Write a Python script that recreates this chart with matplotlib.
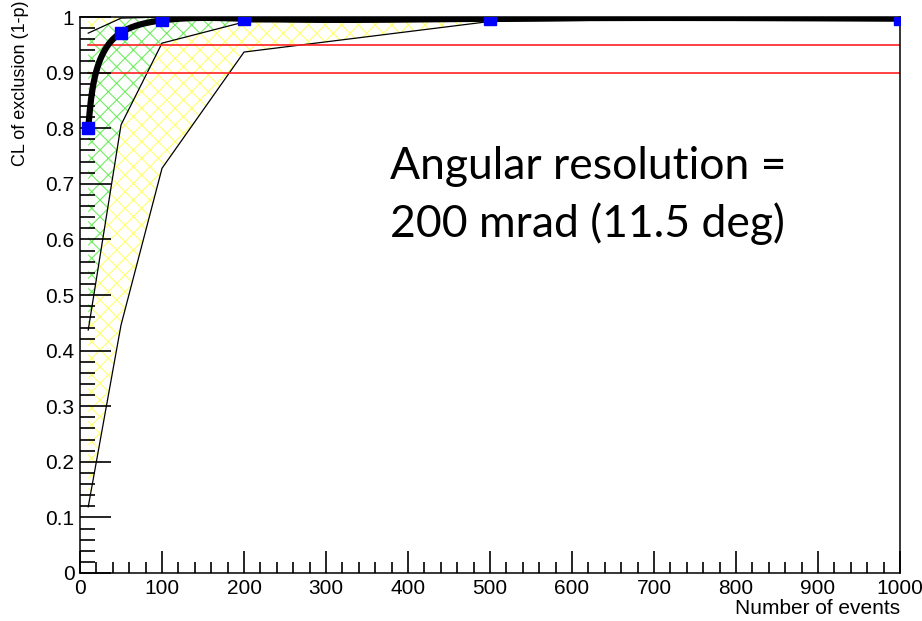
import numpy as np
import matplotlib
matplotlib.use("Agg")
import matplotlib.pyplot as plt

# exclusion CL vs. number of events, with 1 and 2 sigma bands
n_events = [10, 50, 100, 200, 500, 1000]
cl_median = [0.800, 0.972, 0.994, 0.997, 0.997, 0.997]

sig1_lo = [0.437, 0.806, 0.953, 0.991, 0.998, 1.0]
sig1_hi = [0.971, 0.998, 1.0, 1.0, 1.0, 1.0]
sig2_lo = [0.119, 0.446, 0.728, 0.937, 0.992, 1.0]
sig2_hi = [1.0, 1.0, 1.0, 1.0, 1.0, 1.0]

cl_levels = [0.95, 0.90]


def natural_spline(t, y, ts):
    # natural cubic spline y(t) evaluated at ts
    n = len(t)
    h = np.diff(t)
    A = np.zeros((n, n))
    r = np.zeros(n)
    A[0, 0] = A[-1, -1] = 1.0
    for i in range(1, n - 1):
        A[i, i - 1] = h[i - 1]
        A[i, i] = 2 * (h[i - 1] + h[i])
        A[i, i + 1] = h[i]
        r[i] = 6 * ((y[i + 1] - y[i]) / h[i] - (y[i] - y[i - 1]) / h[i - 1])
    M = np.linalg.solve(A, r)
    k = np.clip(np.searchsorted(t, ts) - 1, 0, n - 2)
    a = t[k + 1] - ts
    b = ts - t[k]
    hk = h[k]
    return (M[k] * a**3 + M[k + 1] * b**3) / (6 * hk) \
        + (y[k] / hk - M[k] * hk / 6) * a + (y[k + 1] / hk - M[k + 1] * hk / 6) * b


def smooth(x, y, sx, sy, num=800):
    # parametric spline (chord length in screen units) like ROOT's "C" option
    x = np.asarray(x, float)
    y = np.asarray(y, float)
    px, py = x * sx, y * sy
    t = np.concatenate([[0], np.cumsum(np.hypot(np.diff(px), np.diff(py)))])
    ts = np.linspace(0, t[-1], num)
    return natural_spline(t, px, ts) / sx, natural_spline(t, py, ts) / sy


plt.rcParams["font.family"] = ["Liberation Sans", "DejaVu Sans"]
plt.rcParams["hatch.linewidth"] = 0.8

fig = plt.figure(figsize=(9.22, 6.21), dpi=100)
ax = fig.add_axes([0.0868, 0.0773, 0.8894, 0.8953])

# 2 sigma band (yellow) and 1 sigma band (green), hatched
ax.fill_between(n_events, sig2_lo, sig2_hi, facecolor="white",
                edgecolor="#ffff70", hatch="xx", linewidth=0, zorder=1)
ax.fill_between(n_events, sig1_lo, sig1_hi, facecolor="white",
                edgecolor="#70ee60", hatch="xx", linewidth=0, zorder=2)
for band in (sig2_lo, sig1_lo, sig1_hi):
    ax.plot(n_events, band, color="black", lw=0.9, zorder=3)

for lvl in cl_levels:
    ax.plot([n_events[0], 1000], [lvl, lvl], color="#ff2020", lw=1.2, zorder=4)

# screen scale: 820 px per 1000 events, 556 px per unit CL
xs, ys = smooth(n_events, cl_median, 0.82, 556.0)
ax.plot(xs, ys, color="black", lw=4.5, solid_capstyle="butt", zorder=5)
ax.plot(n_events, cl_median, ls="none", marker="s", ms=9,
        color="#0000ff", zorder=6)

ax.text(378, 0.604, "Angular resolution =\n200 mrad (11.5 deg)",
        fontfamily="Lato", fontsize=32, linespacing=1.45,
        va="baseline", ha="left", zorder=7)

ax.set_xlim(0, 1000)
ax.set_ylim(0, 1.0)
ax.set_xticks(np.arange(0, 1001, 100))
ax.set_xticks(np.arange(0, 1001, 20), minor=True)
ax.set_yticks(np.arange(0, 1.01, 0.1))
ax.set_yticks(np.arange(0, 1.001, 0.02), minor=True)
ax.set_xticklabels(["0"] + [str(v) for v in range(100, 1001, 100)])
ax.set_yticklabels(["0", "0.1", "0.2", "0.3", "0.4", "0.5",
                    "0.6", "0.7", "0.8", "0.9", "1"])
ax.tick_params(axis="both", which="both", direction="in",
               top=False, right=False, labelsize=15, width=1.2)
ax.tick_params(axis="y", which="major", length=22, pad=4)
ax.tick_params(axis="y", which="minor", length=11)
ax.tick_params(axis="x", which="major", length=16, pad=4)
ax.tick_params(axis="x", which="minor", length=8)
ax.xaxis.set_zorder(4.5)
ax.yaxis.set_zorder(4.5)
for s in ax.spines.values():
    s.set_linewidth(1.1)
    s.set_zorder(4.5)

ax.set_xlabel("Number of events", fontsize=15, loc="right", labelpad=1)
ax.set_ylabel("CL of exclusion (1-p)", fontsize=13, loc="top")
ax.yaxis.set_label_coords(-0.062, 1.03, transform=ax.transAxes)

fig.savefig("out.png", dpi=100)
